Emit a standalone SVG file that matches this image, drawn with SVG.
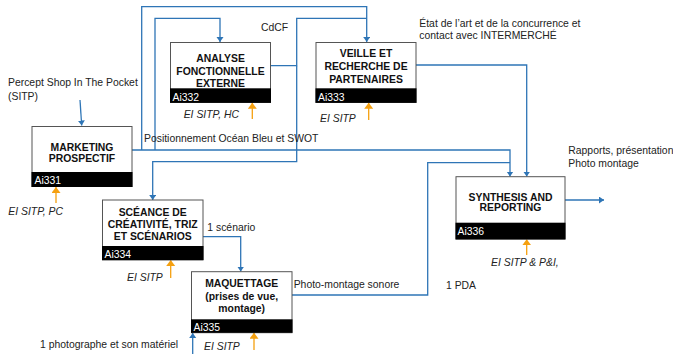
<svg xmlns="http://www.w3.org/2000/svg" width="673" height="354" viewBox="0 0 673 354">
<defs>
<marker id="ab" markerUnits="userSpaceOnUse" markerWidth="8" markerHeight="8" refX="5" refY="3.5" orient="auto"><path d="M0,0 L5,3.5 L0,7 z" fill="#2E75B6"/></marker>
<marker id="ao" markerUnits="userSpaceOnUse" markerWidth="12" markerHeight="12" refX="6" refY="4.5" orient="auto"><path d="M0,0 L6,4.5 L0,9 z" fill="#F5A00F"/></marker>
<style>
.box{fill:#fff;stroke:#555;stroke-width:1}
.band{fill:#000}
.t{font-family:"Liberation Sans",Arial,sans-serif;font-size:10.4px;fill:#222}
.b{font-family:"Liberation Sans",Arial,sans-serif;font-size:10.4px;font-weight:bold;fill:#111;text-anchor:middle}
.id{font-family:"Liberation Sans",Arial,sans-serif;font-size:10.4px;fill:#fff}
.i{font-family:"Liberation Sans",Arial,sans-serif;font-size:10.4px;font-style:italic;fill:#222}
.c{fill:none;stroke:#2E75B6;stroke-width:1.3}
.o{fill:none;stroke:#F5A00F;stroke-width:1.3}
</style>
</defs>
<rect width="673" height="354" fill="#fff"/>
<g id="connectors">
<path class="c" d="M80,100 L81.7,125.5" marker-end="url(#ab)"/>
<path class="c" d="M132,150 H510 V176.5" marker-end="url(#ab)"/>
<path class="c" d="M141.7,150 V6.7 H366.7 V42" marker-end="url(#ab)"/>
<path class="c" d="M155,150 V18.3 H220 V42" marker-end="url(#ab)"/>
<path class="c" d="M270,65.7 H296.7 V18.3 H366.7"/>
<path class="c" d="M296.7,65.7 V161.7 H152.7 V200" marker-end="url(#ab)"/>
<path class="c" d="M416,65 H526.7 V176.5" marker-end="url(#ab)"/>
<path class="c" d="M292,295 H427.7 V162.7 H510"/>
<path class="c" d="M203,236.7 H240.7 V271.5" marker-end="url(#ab)"/>
<path class="c" d="M565,200 H604" marker-end="url(#ab)"/>
<path class="c" d="M192.7,354 V333" marker-end="url(#ab)"/>
<path class="o" d="M56,203 V187" marker-end="url(#ao)"/>
<path class="o" d="M252.3,119 V102.7" marker-end="url(#ao)"/>
<path class="o" d="M368.7,120 V102.7" marker-end="url(#ao)"/>
<path class="o" d="M170.7,278 V260" marker-end="url(#ao)"/>
<path class="o" d="M254,350 V332.7" marker-end="url(#ao)"/>
<path class="o" d="M526.7,255 V239.3" marker-end="url(#ao)"/>
</g>
<g id="n331">
<rect class="box" x="32" y="126.5" width="100" height="60"/>
<rect class="band" x="31.5" y="172" width="101" height="15"/>
<text class="b" x="82" y="150.5">MARKETING</text>
<text class="b" x="82" y="161.5">PROSPECTIF</text>
<text class="id" x="34.5" y="184">Ai331</text>
</g>
<g id="n332">
<rect class="box" x="170.5" y="42.5" width="100" height="60"/>
<rect class="band" x="170" y="88.3" width="101" height="14.5"/>
<text class="b" x="220.5" y="62">ANALYSE</text>
<text class="b" x="220.5" y="74.5">FONCTIONNELLE</text>
<text class="b" x="220.5" y="86.5">EXTERNE</text>
<text class="id" x="172.5" y="100.5">Ai332</text>
</g>
<g id="n333">
<rect class="box" x="316" y="42.5" width="100" height="60"/>
<rect class="band" x="315.5" y="88.3" width="101" height="14.5"/>
<text class="b" x="366" y="57">VEILLE ET</text>
<text class="b" x="366" y="70">RECHERCHE DE</text>
<text class="b" x="366" y="82.5">PARTENAIRES</text>
<text class="id" x="318" y="100.5">Ai333</text>
</g>
<g id="n334">
<rect class="box" x="102.5" y="200" width="100.5" height="60"/>
<rect class="band" x="102" y="246" width="101.5" height="14"/>
<text class="b" x="152.7" y="215.5">SCÉANCE DE</text>
<text class="b" x="152.7" y="228">CRÉATIVITÉ, TRIZ</text>
<text class="b" x="152.7" y="240">ET SCÉNARIOS</text>
<text class="id" x="104.5" y="257.5">Ai334</text>
</g>
<g id="n335">
<rect class="box" x="191.5" y="271.7" width="100.5" height="61"/>
<rect class="band" x="191" y="319.3" width="101.5" height="13.5"/>
<text class="b" x="241.7" y="287">MAQUETTAGE</text>
<text class="b" x="241.7" y="300">(prises de vue,</text>
<text class="b" x="241.7" y="312">montage)</text>
<text class="id" x="193.5" y="330.5">Ai335</text>
</g>
<g id="n336">
<rect class="box" x="456" y="176.7" width="109" height="62.5"/>
<rect class="band" x="455.5" y="222.7" width="110" height="16.6"/>
<text class="b" x="510.5" y="200.5">SYNTHESIS AND</text>
<text class="b" x="510.5" y="211">REPORTING</text>
<text class="id" x="457.5" y="235">Ai336</text>
</g>
<g id="labels">
<text class="t" x="8" y="86">Percept Shop In The Pocket</text>
<text class="t" x="8" y="99.5">(SITP)</text>
<text class="t" x="261" y="31">CdCF</text>
<text class="t" x="144" y="142">Positionnement Océan Bleu et SWOT</text>
<text class="i" x="183.7" y="118">EI SITP, HC</text>
<text class="i" x="320" y="122">EI SITP</text>
<text class="t" x="419.3" y="27">État de l’art et de la concurrence et</text>
<text class="t" x="419.3" y="39">contact avec INTERMERCHÉ</text>
<text class="t" x="568.3" y="154">Rapports, présentation</text>
<text class="t" x="568.3" y="167">Photo montage</text>
<text class="i" x="8.3" y="215">EI SITP, PC</text>
<text class="t" x="207.3" y="231">1 scénario</text>
<text class="i" x="127" y="281">EI SITP</text>
<text class="t" x="293.7" y="288">Photo-montage sonore</text>
<text class="t" x="446" y="289">1 PDA</text>
<text class="i" x="491" y="266">EI SITP &amp; P&amp;I,</text>
<text class="t" x="40" y="348">1 photographe et son matériel</text>
<text class="i" x="204" y="350">EI SITP</text>
</g>
</svg>
